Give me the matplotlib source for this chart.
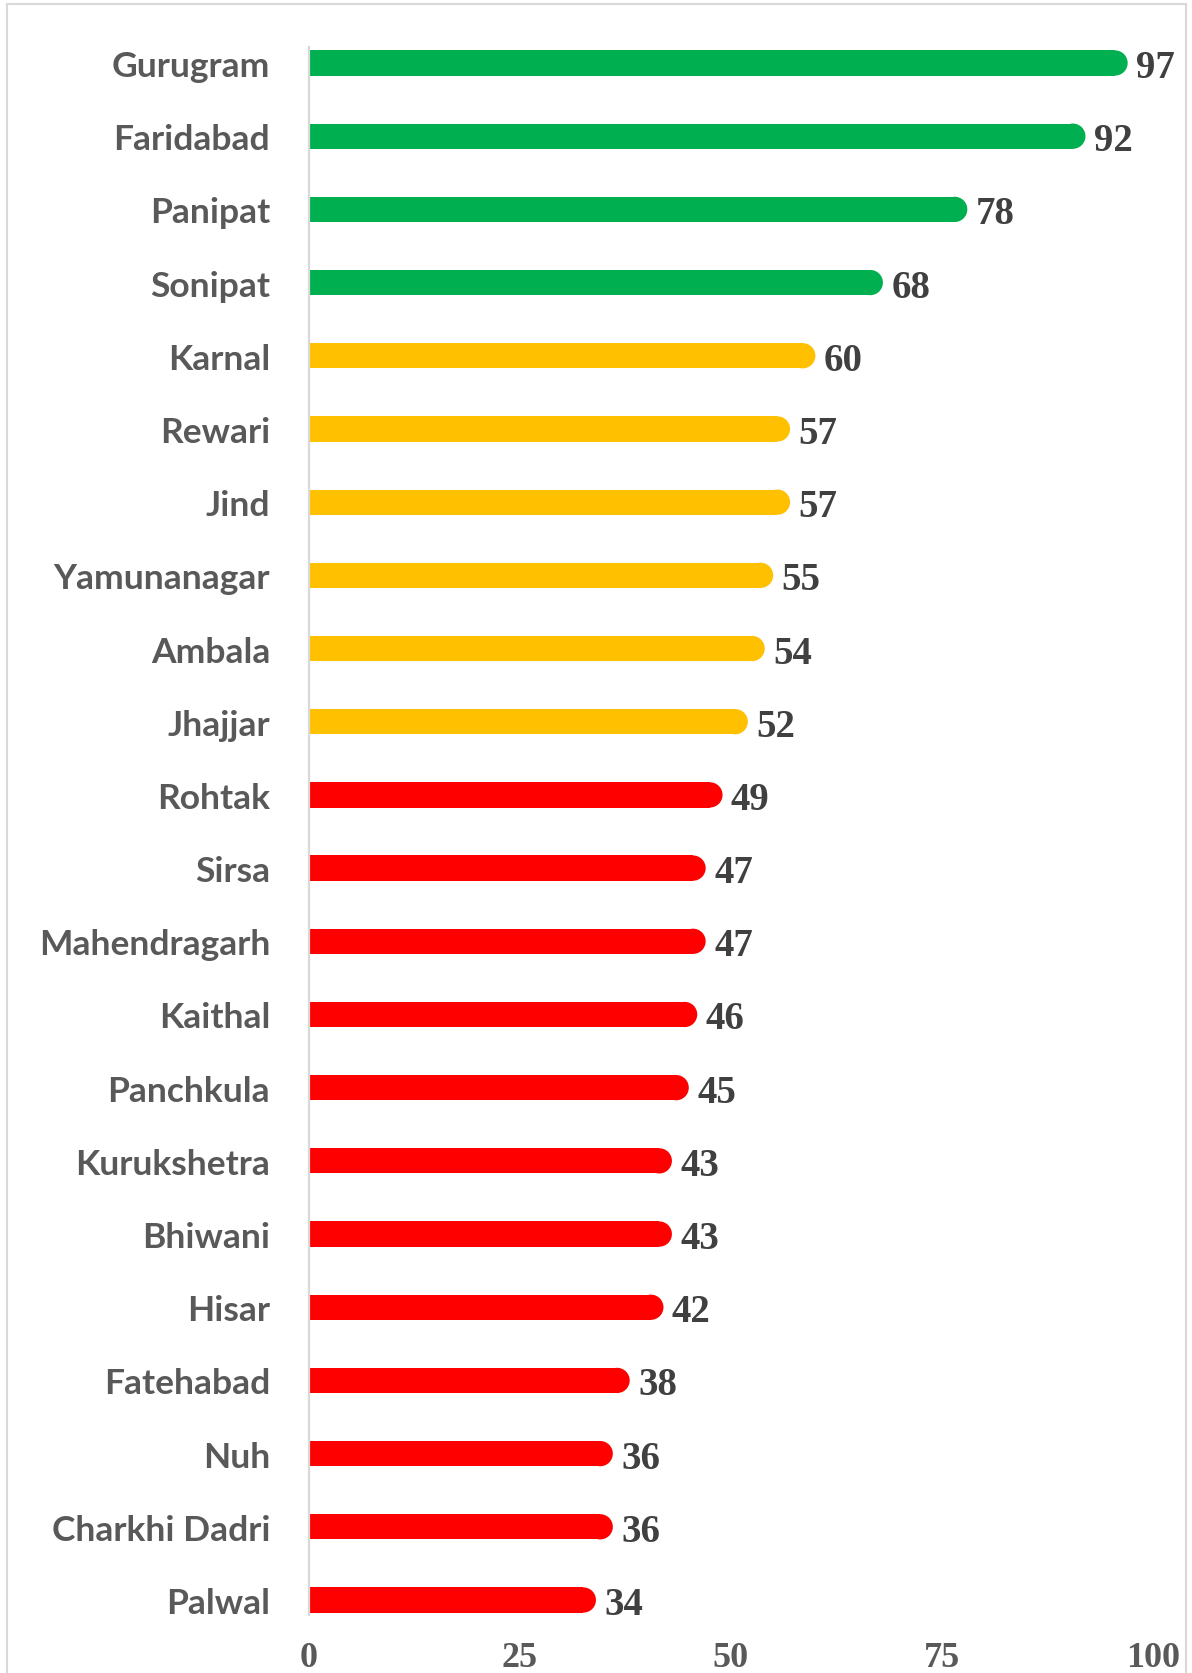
import matplotlib
matplotlib.use("Agg")
import matplotlib.pyplot as plt
from matplotlib.patches import Ellipse, Rectangle

districts = ['Gurugram', 'Faridabad', 'Panipat', 'Sonipat', 'Karnal', 'Rewari', 'Jind',
             'Yamunanagar', 'Ambala', 'Jhajjar', 'Rohtak', 'Sirsa', 'Mahendragarh', 'Kaithal',
             'Panchkula', 'Kurukshetra', 'Bhiwani', 'Hisar', 'Fatehabad', 'Nuh',
             'Charkhi Dadri', 'Palwal']
scores = [97, 92, 78, 68, 60, 57, 57, 55, 54, 52, 49, 47, 47, 46, 45, 43, 43, 42, 38, 36, 36, 34]
x_ticks = [0, 25, 50, 75, 100]

GREEN, YELLOW, RED = '#00B050', '#FFC000', '#FF0000'

def tier_color(v):
    if v > 60:
        return GREEN
    if v >= 50:
        return YELLOW
    return RED

W, H = 1192, 1674
fig = plt.figure(figsize=(W / 100, H / 100), dpi=100)
# axes placement in pixels
x0, x1 = 309, 1153
y_top, y_bot = 27.4, 1637.6
ax = fig.add_axes([x0 / W, 1 - y_bot / H, (x1 - x0) / W, (y_bot - y_top) / H])

n = len(districts)
ys = list(range(n))
ax.set_xlim(0, 100)
ax.set_ylim(n - 0.5, -0.5)

bh = 0.345
# radius of the round end, converted to x data units
px_per_y = (y_bot - y_top) / n
px_per_x = (x1 - x0) / 100
r_x = (bh / 2) * px_per_y / px_per_x

for y, v in zip(ys, scores):
    c = tier_color(v)
    ax.barh(y, v - r_x, height=bh, color=c, linewidth=0)
    ax.add_patch(Ellipse((v - r_x, y), 2 * r_x, bh, facecolor=c, edgecolor='none'))
    ax.annotate(str(v), (v, y), xytext=(6, 0), textcoords='offset points',
                ha='left', va='center_baseline', fontsize=28, fontweight='bold',
                family='Liberation Serif', color='#404040')

ax.set_yticks(ys)
ax.set_yticklabels(districts, fontsize=25.5, fontweight='bold', family='Lato', color='#595959')
ax.set_xticks(x_ticks)
ax.set_xticklabels([str(t) for t in x_ticks], fontsize=26, fontweight='bold',
                   family='Liberation Serif', color='#595959')
ax.tick_params(axis='y', length=0, pad=28)
ax.tick_params(axis='x', length=0, pad=3)

for s in ['top', 'right', 'bottom']:
    ax.spines[s].set_visible(False)
ax.spines['left'].set_color('#D9D9D9')
ax.spines['left'].set_linewidth(1.6)
ax.spines['left'].set_bounds(n - 1 + 0.2, -0.22)
ax.patch.set_alpha(0)

# outer chart border
fig.add_artist(Rectangle((7 / W, -0.05), (1186 - 7) / W, 1.05 - 5 / H,
                         transform=fig.transFigure, fill=False,
                         edgecolor='#D9D9D9', linewidth=1.5))

fig.savefig('out.png', dpi=100, facecolor='white')
